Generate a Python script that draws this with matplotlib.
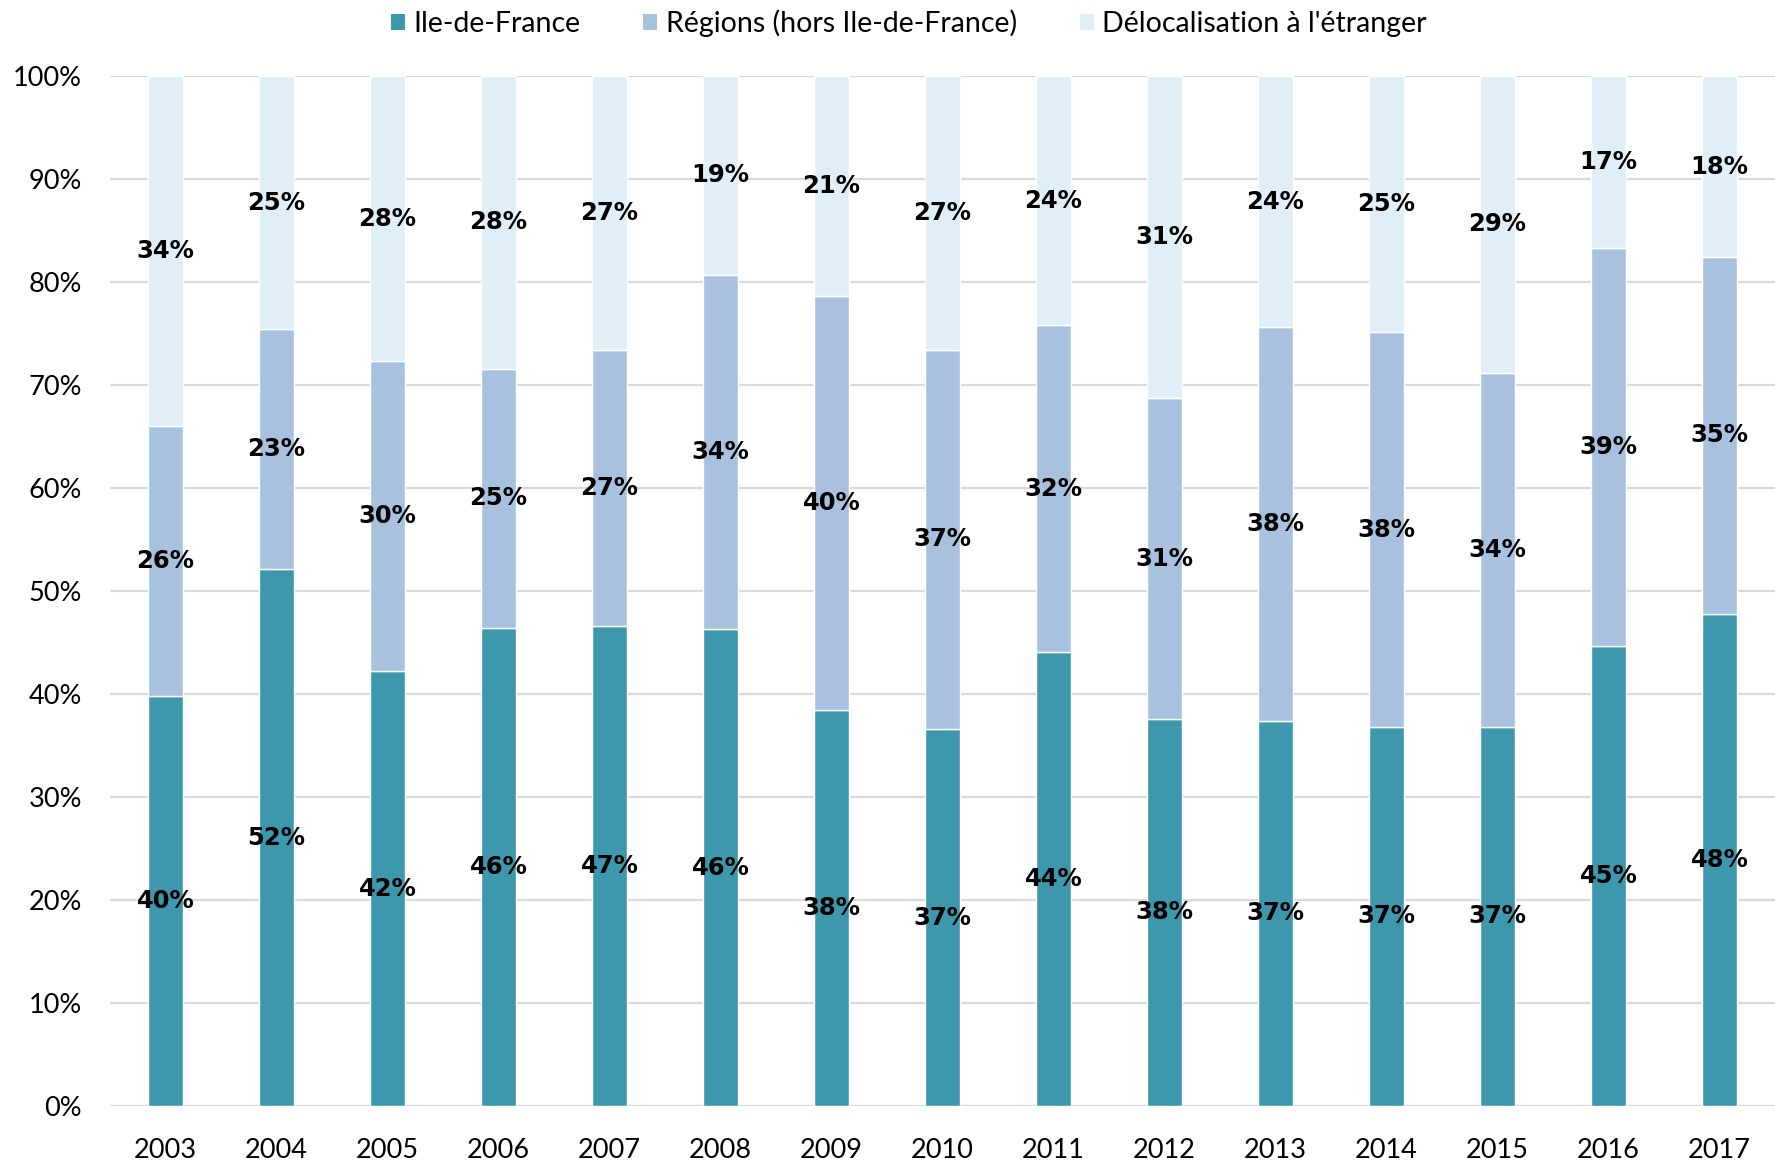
import matplotlib
matplotlib.use("Agg")
import matplotlib.pyplot as plt
from matplotlib.patches import Patch
import numpy as np

years = ["2003", "2004", "2005", "2006", "2007", "2008", "2009", "2010",
         "2011", "2012", "2013", "2014", "2015", "2016", "2017"]
idf = [39.8, 52.1, 42.2, 46.4, 46.6, 46.3, 38.4, 36.6, 44.1, 37.6, 37.4, 36.8, 36.8, 44.7, 47.8]
regions = [26.2, 23.3, 30.1, 25.2, 26.8, 34.4, 40.2, 36.8, 31.7, 31.1, 38.2, 38.3, 34.4, 38.6, 34.6]
deloc = [34.0, 24.6, 27.7, 28.4, 26.6, 19.3, 21.4, 26.6, 24.2, 31.3, 24.4, 24.9, 28.8, 16.7, 17.6]
series_names = ["Ile-de-France", "Régions (hors Ile-de-France)", "Délocalisation à l'étranger"]
colors = ["#3d98ae", "#a8c1df", "#e0eff7"]
yticks = [0, 10, 20, 30, 40, 50, 60, 70, 80, 90, 100]

fig = plt.figure(figsize=(17.75, 11.6), dpi=100)
ax = fig.add_axes([110/1775, 1 - 1106/1160, 1 - 110/1775, (1106 - 76)/1160])

x = np.arange(len(years))
bottom = np.zeros(len(years))
width = 0.31
for vals, col in zip([idf, regions, deloc], colors):
    vals = np.array(vals)
    ax.bar(x, vals, width, bottom=bottom, color=col, edgecolor="white", linewidth=1, zorder=2)
    for xi, b, v in zip(x, bottom, vals):
        ax.text(xi, b + v / 2, f"{int(round(v))}%", ha="center", va="center",
                fontsize=17.5, fontweight="bold", family="DejaVu Sans", color="black", zorder=3)
    bottom += vals

ax.set_xlim(-0.5, len(years) - 0.5)
ax.set_ylim(0, 100)
ax.set_yticks(yticks)
ax.set_yticklabels([f"{t}%" for t in yticks])
ax.set_xticks(x)
ax.set_xticklabels(years)
for lab in ax.get_xticklabels() + ax.get_yticklabels():
    lab.set_family("Lato")
    lab.set_fontsize(19.5)
ax.tick_params(axis="y", length=0, pad=20)
ax.tick_params(axis="x", length=0, pad=23)
ax.grid(axis="y", color="#d9d9d9", linewidth=1.6, zorder=0)
ax.set_axisbelow(True)
for s in ax.spines.values():
    s.set_visible(False)

handles = [Patch(facecolor=c, edgecolor="none") for c in colors]
fig.legend(handles, series_names, loc="upper center", bbox_to_anchor=(0.512, 1.014), ncol=3,
           frameon=False, prop={"family": "Lato", "size": 20.5},
           handlelength=0.5, handleheight=0.5, handletextpad=0.3, columnspacing=2.2)

fig.savefig("out.png", dpi=100)
